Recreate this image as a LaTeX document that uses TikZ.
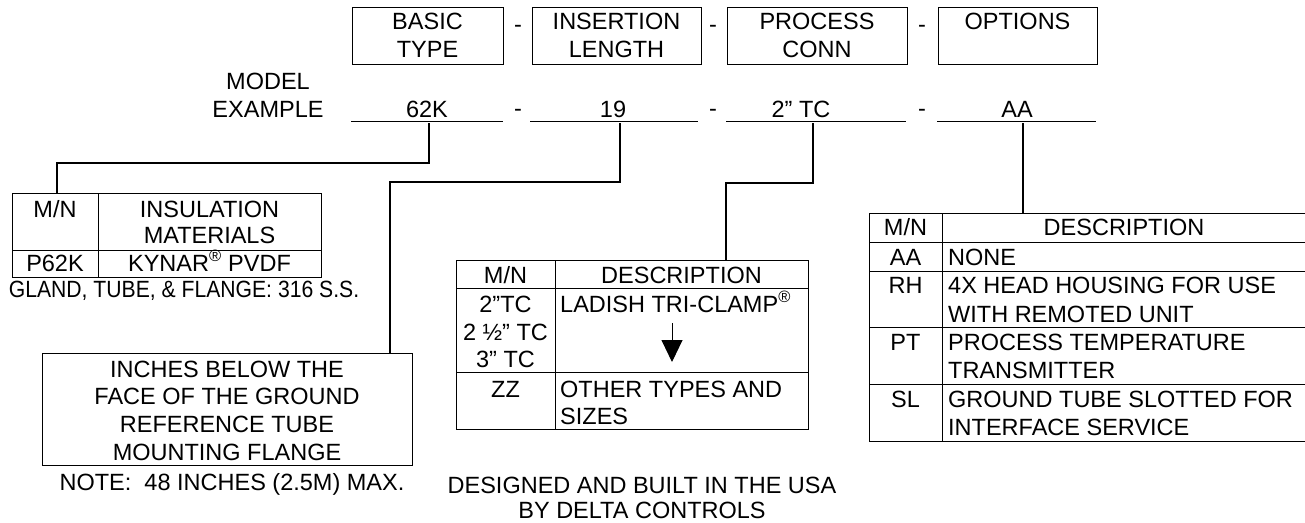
\documentclass[tikz,border=0pt]{standalone}
\usepackage{fontspec}
\setmainfont{Liberation Sans}
\usepackage{graphicx}
\usetikzlibrary{arrows.meta}
\tikzset{
 lbl/.style={inner sep=0pt, anchor=base, font=\fontsize{23.5}{27.5}\selectfont},
 lblL/.style={lbl, anchor=base west},
 hdr/.style={draw, line width=1pt, align=center, inner sep=0pt, minimum height=57pt, font=\fontsize{23.5}{27.5}\selectfont},
 gridline/.style={line width=1pt},
 conn/.style={line width=1.6pt},
 uline/.style={line width=1pt}
}
\begin{document}
\begin{tikzpicture}[x=1pt,y=-1pt]
\useasboundingbox (0,0) rectangle (1305,522);
% header boxes
\node[hdr, minimum width=151pt] (bt) at (427.5,35.5) {BASIC\\TYPE};
\node[hdr, minimum width=169pt] (il) at (616.5,35.5) {INSERTION\\LENGTH};
\node[hdr, minimum width=180pt] (pc) at (817,35.5) {PROCESS\\CONN};
\node[hdr, minimum width=159pt] (op) at (1017.5,35.5) {OPTIONS\\\phantom{T}};
\node[lbl] (d1) at (518,32) {-};
\node[lbl] (d2) at (713,32) {-};
\node[lbl] (d3) at (922,32) {-};
% model example
\node[lbl] (me1) at (268,89) {MODEL};
\node[lbl] (me2) at (268,117) {EXAMPLE};
\node[lbl] (v1) at (427,117) {62K};
\node[lbl] (v2) at (613,117) {19};
\node[lbl] (v3) at (801,117) {2” TC};
\node[lbl] (v4) at (1017,117) {AA};
\node[lbl] (e1) at (518,116) {-};
\node[lbl] (e2) at (713,116) {-};
\node[lbl] (e3) at (922,116) {-};
\coordinate (u1a) at (351,121); \coordinate (u1b) at (503,121);
\coordinate (u2a) at (530,121); \coordinate (u2b) at (698,121);
\coordinate (u3a) at (726,121); \coordinate (u3b) at (906,121);
\coordinate (u4a) at (937,121); \coordinate (u4b) at (1096,121);
\draw[uline] (u1a) -- (u1b);
\draw[uline] (u2a) -- (u2b);
\draw[uline] (u3a) -- (u3b);
\draw[uline] (u4a) -- (u4b);
% connector anchor points
\coordinate (k1) at (429,123);
\coordinate (t1) at (57,193);
\coordinate (k2) at (620,123);
\coordinate (t2) at (390,353);
\coordinate (k3) at (813,123);
\coordinate (t3) at (726,260);
\coordinate (k4) at (1023,123);
\coordinate (t4) at (1023,213);
\draw[conn] (k1) -- (429,163) -| (t1);
\draw[conn] (k2) -- (620,182) -| (t2);
\draw[conn] (k3) -- (813,183) -| (t3);
\draw[conn] (k4) -- (t4);
% left table
\draw[gridline] (12,193) rectangle (321,277);
\draw[gridline] (12,250) -- (321,250);
\draw[gridline] (98,193) -- (98,277);
\node[lbl] (a1) at (55,217) {M/N};
\node[lbl] (a2) at (209.5,217) {INSULATION};
\node[lbl] (a3) at (209.5,243) {MATERIALS};
\node[lbl] (a4) at (55,271) {P62K};
\node[lbl] (a5) at (209.5,271) {KYNAR\textsuperscript{®} PVDF};
\node[lbl] (a6) at (184,297) {\scalebox{0.9}[1]{GLAND, TUBE, \& FLANGE: 316 S.S.}};
% insertion box
\draw[gridline] (42,353) rectangle (412,465);
\node[lbl] (b1) at (227,377) {INCHES BELOW THE};
\node[lbl] (b2) at (227,404) {FACE OF THE GROUND};
\node[lbl] (b3) at (227,432) {REFERENCE TUBE};
\node[lbl] (b4) at (227,460) {MOUNTING FLANGE};
\node[lbl] (b5) at (232,490) {NOTE:\ \ 48 INCHES (2.5M) MAX.};
% middle table
\draw[gridline] (456,260) rectangle (808,429);
\draw[gridline] (456,288) -- (808,288);
\draw[gridline] (456,372) -- (808,372);
\draw[gridline] (555,260) -- (555,429);
\node[lbl] (c1) at (505.5,283) {M/N};
\node[lbl] (c2) at (681.5,283) {DESCRIPTION};
\node[lbl] (c3) at (505.5,312) {2”TC};
\node[lbl] (c4) at (505.5,340) {2 ½” TC};
\node[lbl] (c5) at (505.5,367) {3” TC};
\node[lblL] (c6) at (560,312) {LADISH TRI-CLAMP\textsuperscript{®}};
\node[lbl] (c7) at (505.5,397) {ZZ};
\node[lblL] (c8) at (560,397) {OTHER TYPES AND};
\node[lblL] (c9) at (560,424) {SIZES};
\coordinate (ar1) at (672,323);
\coordinate (ar2) at (672,362);
\draw[line width=1pt, -{Triangle[width=21pt,length=22pt]}] (ar1) -- (ar2);
% footer
\node[lbl] (f1) at (642,493) {DESIGNED AND BUILT IN THE USA};
\node[lbl] (f2) at (642,518) {BY DELTA CONTROLS};
% right table
\draw[gridline] (1305,213) -- (869,213) -- (869,441) -- (1305,441);
\foreach \yy in {242,271,327,384} \draw[gridline] (869,\yy) -- (1305,\yy);
\draw[gridline] (942,213) -- (942,441);
\node[lbl] (r1) at (905.5,235) {M/N};
\node[lbl] (r2) at (1124,235) {DESCRIPTION};
\node[lbl] (r3) at (905.5,265) {AA};
\node[lblL] (r4) at (948,265) {NONE};
\node[lbl] (r5) at (905.5,293) {RH};
\node[lblL] (r6) at (948,293) {4X HEAD HOUSING FOR USE};
\node[lblL] (r7) at (948,322) {WITH REMOTED UNIT};
\node[lbl] (r8) at (905.5,350) {PT};
\node[lblL] (r9) at (948,350) {PROCESS TEMPERATURE};
\node[lblL] (r10) at (948,378) {TRANSMITTER};
\node[lbl] (r11) at (905.5,407) {SL};
\node[lblL] (r12) at (948,407) {GROUND TUBE SLOTTED FOR};
\node[lblL] (r13) at (948,435) {INTERFACE SERVICE};
\end{tikzpicture}
\end{document}
